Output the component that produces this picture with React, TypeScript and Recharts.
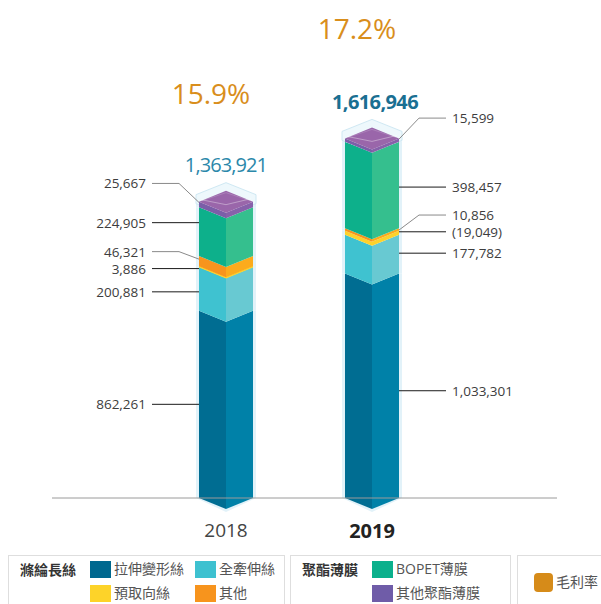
import React from 'react';
import { ComposedChart, Bar, Line, XAxis, YAxis, LabelList } from 'recharts';

// ---------- data ----------
const years = ['2018', '2019'];
const texturedYarn = [862261, 1033301];   // 拉伸變形絲
const fullyDrawnYarn = [200881, 177782];  // 全牽伸絲
const preOrientedYarn = [3886, -19049];   // 預取向絲
const otherYarn = [46321, 10856];         // 其他
const bopetFilm = [224905, 398457];       // BOPET薄膜
const otherFilm = [25667, 15599];         // 其他聚酯薄膜
const totals = [1363921, 1616946];
const grossMargin = [15.9, 17.2];         // 毛利率 %

const rawByKey: Record<string, number[]> = {
  tex: texturedYarn,
  fdy: fullyDrawnYarn,
  poy: preOrientedYarn,
  oth: otherYarn,
  bopet: bopetFilm,
  film: otherFilm,
};

const chartData = years.map((year, i) => ({
  year,
  tex: texturedYarn[i],
  fdy: fullyDrawnYarn[i],
  poy: Math.abs(preOrientedYarn[i]),
  oth: otherYarn[i],
  bopet: bopetFilm[i],
  film: otherFilm[i],
  total: totals[i],
  margin: grossMargin[i],
}));

const FONT = "'Open Sans', 'Noto Sans CJK TC', sans-serif";
const D = 11;

const SERIES = [
  { key: 'tex', left: '#006d92', right: '#0081a8', minH: 0 },
  { key: 'fdy', left: '#3fc2d0', right: '#68c9d2', minH: 0 },
  { key: 'poy', left: '#fdd22b', right: '#fdd22b', minH: 1.6 },
  { key: 'oth', left: '#f7941d', right: '#fcab1c', minH: 0 },
  { key: 'bopet', left: '#0db08b', right: '#35bf8e', minH: 0 },
  { key: 'film', left: '#7b5ea8', right: '#8761aa', minH: 0 },
];

const LAYOUT: Record<string, { dy: number; bent?: boolean; ty?: number }[]> = {
  tex: [{ dy: 0 }, { dy: 5 }],
  fdy: [{ dy: 3 }, { dy: -1 }],
  poy: [{ dy: 2 }, { dy: -1 }],
  oth: [{ dy: -9.5, bent: true, ty: -2 }, { dy: -14.5, bent: true, ty: 0.5 }],
  bopet: [{ dy: -9 }, { dy: 2 }],
  film: [{ dy: -21, bent: true, ty: -2 }, { dy: -22, bent: true, ty: -1 }],
};

const GLASS = '#e2f2f9';
const GLASS_STROKE = '#cfe8f3';

const fmt = (v: number) => {
  const s = Math.abs(v).toLocaleString('en-US');
  return v < 0 ? `(${s})` : s;
};

function makeShape(idx: number) {
  const s = SERIES[idx];
  const isBase = idx === 0;
  const isTop = idx === SERIES.length - 1;
  return (props: any) => {
    const { x, width } = props;
    let { y, height } = props;
    if (height < s.minH) {
      y = y - (s.minH - height) / 2;
      height = s.minH;
    }
    const w = width;
    const cx = x + w / 2;
    const h = height;
    const leftFace = `${x},${y} ${cx},${y + D} ${cx},${y + h + D} ${x},${y + h}`;
    const rightFace = `${cx},${y + D} ${x + w},${y} ${x + w},${y + h} ${cx},${y + h + D}`;
    return (
      <g>
        <rect x={x - 3} y={y} width={3} height={h} fill={GLASS} />
        <rect x={x + w} y={y} width={3} height={h} fill={GLASS} />
        {isBase && (
          <polygon
            points={`${x - 3},${y + h - 1} ${x + w + 3},${y + h - 1} ${x + w + 3},${y + h} ${cx},${y + h + D + 3} ${x - 3},${y + h}`}
            fill={GLASS}
          />
        )}
        {isTop && (
          <polygon
            points={`${x - 3},${y + 2} ${x - 3},${y - 7} ${cx},${y - 8 - D} ${x + w + 3},${y - 7} ${x + w + 3},${y + 2} ${cx},${y + D + 2}`}
            fill="#eef8fc"
            stroke={GLASS_STROKE}
            strokeWidth={1}
          />
        )}
        <polygon points={leftFace} fill={s.left} />
        <polygon points={rightFace} fill={s.right} />
        {isTop && (
          <g>
            <polygon
              points={`${x},${y} ${cx},${y - D} ${x + w},${y} ${cx},${y + D}`}
              fill="#9a66aa"
            />
            <polyline
              points={`${x + 2},${y - 2} ${cx},${y + 3} ${x + w - 2},${y - 3}`}
              fill="none"
              stroke="rgba(255,255,255,0.45)"
              strokeWidth={0.8}
            />
            <polyline
              points={`${x + 3},${y - 1} ${cx},${y - D + 2} ${x + w - 3},${y - 1}`}
              fill="none"
              stroke="rgba(255,255,255,0.2)"
              strokeWidth={0.8}
            />
          </g>
        )}
      </g>
    );
  };
}

function makeSegLabel(key: string) {
  return (p: any) => {
    const vb = p.viewBox || {};
    const x = p.x ?? vb.x;
    const y = p.y ?? vb.y;
    const width = p.width ?? vb.width;
    const height = p.height ?? vb.height;
    const index = p.index;
    if (x == null || index == null) return null;
    const lay = LAYOUT[key][index];
    const mid = y + height / 2;
    const ly = mid + lay.dy;
    const ty = mid + (lay.ty ?? 0);
    const value = rawByKey[key][index];
    const color = lay.bent ? '#8a8a8a' : '#1a1a1a';
    const leftSide = index === 0;
    const edge = leftSide ? x : x + width;
    const sgn = leftSide ? -1 : 1;
    const start = edge + sgn * 47;
    const kink = edge + sgn * 20;
    const textX = edge + sgn * 53;
    return (
      <g>
        {lay.bent ? (
          <polyline
            points={`${start},${ly} ${kink},${ly} ${edge},${ty}`}
            fill="none"
            stroke={color}
            strokeWidth={1}
          />
        ) : (
          <line x1={start} y1={ly} x2={edge} y2={ly} stroke={color} strokeWidth={1} />
        )}
        <text
          x={textX}
          y={ly}
          textAnchor={leftSide ? 'end' : 'start'}
          dominantBaseline="central"
          fontFamily={FONT}
          fontSize={13.5}
          fill="#3d3d3d"
        >
          {fmt(value)}
        </text>
      </g>
    );
  };
}

const TotalLabel = (p: any) => {
  const vb = p.viewBox || {};
  const x = p.x ?? vb.x;
  const y = p.y ?? vb.y;
  const width = p.width ?? vb.width;
  const index = p.index;
  if (x == null || index == null) return null;
  const bold = index === 1;
  return (
    <text
      x={x + width / 2 + (bold ? 3 : 0)}
      y={y - 37}
      textAnchor="middle"
      dominantBaseline="central"
      fontFamily={FONT}
      fontSize={20}
      fontWeight={bold ? 700 : 400}
      letterSpacing={bold ? -0.6 : -0.9}
      fill={bold ? '#1a6f92' : '#2b88aa'}
    >
      {totals[index].toLocaleString('en-US')}
    </text>
  );
};

const PctLabel = (p: any) => {
  const { x, y, value } = p;
  if (x == null || y == null) return null;
  return (
    <text
      x={x - 15}
      y={y}
      textAnchor="middle"
      dominantBaseline="central"
      fontFamily={FONT}
      fontSize={28}
      fill="#d98e1c"
    >
      {`${Number(value).toFixed(1)}%`}
    </text>
  );
};

const YearTick = (p: any) => {
  const { x, y, payload } = p;
  const bold = payload.value === '2019';
  return (
    <text
      x={x}
      y={y + 24}
      textAnchor="middle"
      dominantBaseline="central"
      fontFamily={FONT}
      fontSize={bold ? 20 : 19}
      fontWeight={bold ? 700 : 400}
      fill={bold ? '#222' : '#444'}
    >
      {payload.value}
    </text>
  );
};

const legendGroups = [
  {
    title: '滌綸長絲',
    left: 8,
    width: 277,
    items: [
      { name: '拉伸變形絲', color: '#00688f', x: 81, row: 0 },
      { name: '全牽伸絲', color: '#3ec1d0', x: 186, row: 0 },
      { name: '預取向絲', color: '#fdd329', x: 81, row: 1 },
      { name: '其他', color: '#f7941d', x: 186, row: 1 },
    ],
  },
  {
    title: '聚酯薄膜',
    left: 290,
    width: 221,
    items: [
      { name: 'BOPET薄膜', color: '#0bb08c', x: 81, row: 0 },
      { name: '其他聚酯薄膜', color: '#6f5ca8', x: 81, row: 1 },
    ],
  },
];

const Legend = () => (
  <div style={{ position: 'absolute', left: 0, top: 0, width: 601, height: 604, pointerEvents: 'none' }}>
    {legendGroups.map((g) => (
      <div
        key={g.title}
        style={{
          position: 'absolute',
          left: g.left,
          top: 555,
          width: g.width,
          height: 60,
          border: '1px solid #dedede',
          boxSizing: 'border-box',
          fontFamily: FONT,
        }}
      >
        <div
          style={{
            position: 'absolute',
            left: 11,
            top: 4,
            fontSize: 14,
            fontWeight: 700,
            color: '#333',
            lineHeight: '20px',
          }}
        >
          {g.title}
        </div>
        {g.items.map((it) => (
          <div key={it.name}>
            <div
              style={{
                position: 'absolute',
                left: it.x,
                top: 5 + it.row * 24,
                width: 21,
                height: 17,
                background: it.color,
              }}
            />
            <div
              style={{
                position: 'absolute',
                left: it.x + 24,
                top: 3 + it.row * 24,
                fontSize: 14,
                color: '#555',
                lineHeight: '20px',
                whiteSpace: 'nowrap',
              }}
            >
              {it.name}
            </div>
          </div>
        ))}
      </div>
    ))}
    <div
      style={{
        position: 'absolute',
        left: 517,
        top: 555,
        width: 100,
        height: 60,
        border: '1px solid #dedede',
        boxSizing: 'border-box',
        fontFamily: FONT,
      }}
    >
      <div
        style={{
          position: 'absolute',
          left: 16,
          top: 17,
          width: 19,
          height: 19,
          borderRadius: 4,
          background: '#d68b19',
        }}
      />
      <div
        style={{
          position: 'absolute',
          left: 38,
          top: 16,
          fontSize: 14,
          color: '#555',
          lineHeight: '20px',
          whiteSpace: 'nowrap',
        }}
      >
        毛利率
      </div>
    </div>
  </div>
);

export default function App() {
  return (
    <div style={{ position: 'absolute', left: 0, top: 0, width: 601, height: 604, background: '#fff', overflow: 'hidden' }}>
      <ComposedChart
        width={601}
        height={560}
        data={chartData}
        margin={{ top: 20, right: 44, left: 52, bottom: 20 }}
      >
        <XAxis
          dataKey="year"
          padding={{ left: 101, right: 112 }}
          tickLine={false}
          axisLine={{ stroke: '#9a9a9a', strokeWidth: 1 }}
          height={42}
          tick={<YearTick />}
          interval={0}
        />
        <YAxis yAxisId="v" hide domain={[0, 2200000]} />
        <YAxis yAxisId="pct" hide orientation="right" domain={[7.8, 17.36]} />
        {SERIES.map((s, i) => (
          <Bar
            key={s.key}
            dataKey={s.key}
            stackId="a"
            yAxisId="v"
            barSize={54}
            isAnimationActive={false}
            shape={makeShape(i)}
          >
            <LabelList dataKey={s.key} content={makeSegLabel(s.key)} />
            {i === SERIES.length - 1 && <LabelList dataKey="total" content={TotalLabel} />}
          </Bar>
        ))}
        <Line
          yAxisId="pct"
          dataKey="margin"
          stroke="none"
          dot={false}
          activeDot={false}
          isAnimationActive={false}
        >
          <LabelList dataKey="margin" content={PctLabel} />
        </Line>
      </ComposedChart>
      <Legend />
    </div>
  );
}
